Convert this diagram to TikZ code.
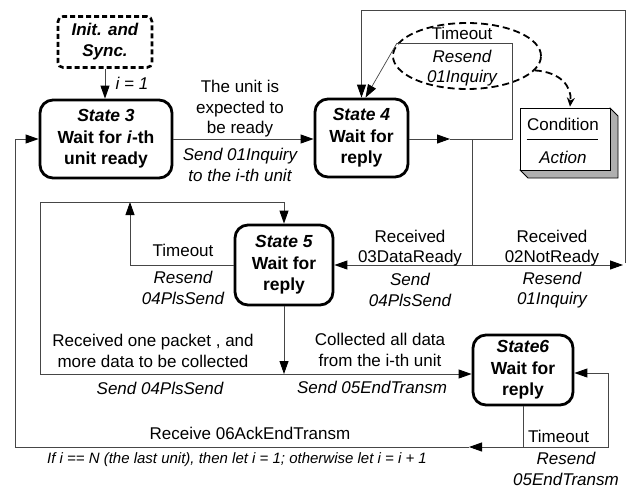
\documentclass[tikz,border=0pt]{standalone}
\usepackage{fontspec}
\setmainfont{Liberation Sans}
\usetikzlibrary{arrows.meta,shapes.geometric,calc}
\definecolor{lc}{RGB}{70,70,70}
\definecolor{sideg}{RGB}{175,175,175}
\begin{document}
\begin{tikzpicture}[x=1pt,y=-1pt,
  every node/.style={font=\fontsize{17}{20.5}\selectfont},
  state/.style={draw, line width=2.8pt, rounded corners=13pt, align=center, inner sep=0pt,
    font=\bfseries\fontsize{17.5}{21.5}\selectfont},
  conn/.style={draw=lc, line width=0.9pt},
  arr/.style={conn, -{Triangle[length=13pt,width=9pt,color=black]}},
  lbl/.style={align=center, inner sep=0pt},
  it/.style={lbl, font=\itshape\fontsize{17}{20.5}\selectfont}
]
\useasboundingbox (0,0) rectangle (633,491);

% ---------- nodes ----------
\node[draw, line width=2.6pt, dash pattern=on 5pt off 3pt, rounded corners=5pt,
  minimum width=94pt, minimum height=51pt, align=center, inner sep=0pt,
  font=\bfseries\itshape\fontsize{17}{21}\selectfont] (init) at (105,42) {Init. and\\Sync.};

\node[state, minimum width=132pt, minimum height=78pt] (s3) at (106,139)
  {\textit{State 3}\\Wait for \textit{i}-th\\unit ready};
\node[state, minimum width=93pt, minimum height=78pt] (s4) at (361.5,138)
  {\textit{State 4}\\Wait for\\reply};
\node[state, minimum width=98pt, minimum height=80pt] (s5) at (284,265)
  {\textit{State 5}\\Wait for\\reply};
\node[state, minimum width=100pt, minimum height=70pt] (s6) at (523,370)
  {\textit{State6}\\Wait for\\reply};

\node[draw, ellipse, line width=1.8pt, dash pattern=on 7pt off 4pt,
  minimum width=148pt, minimum height=66pt] (ell) at (467,56) {};

% condition box (3D)
\fill[sideg, draw=black, line width=0.8pt] (610,108) -- (618,116) -- (618,178) -- (528,178) -- (520,170) -- cycle;
\node[draw, fill=white, line width=0.8pt, minimum width=90pt, minimum height=62pt, inner sep=0pt] (cond) at (565,139) {};
\node[lbl] (condt) at (563,124) {Condition};
\draw[line width=0.8pt] (cond.west) ++(7,0) coordinate (cl1) -- ($(cond.east)+(-12,0)$) coordinate (cl2);
\node[it] (actt) at (563,157) {Action};

% ---------- connectors ----------
\draw[arr] (init.south) -- (init.south |- s3.north);
\node[it] (i1) at (132,83) {i = 1};

\draw[arr] (s3.east) -- (s3.east -| s4.west);
\node[lbl] (l34a) at (240,109) {The unit is\\expected to\\be ready};
\node[it] (l34b) at (240,165) {Send 01Inquiry\\to the i-th unit};

% state 4 outputs
\coordinate (a4) at (450,139);
\coordinate (j1) at (512,139);
\coordinate (j2) at (472,139);
\coordinate (t1) at (512,43);
\coordinate (t2) at (397,43);
\draw[arr] (s4.east |- a4) -- (a4);
\draw[conn] (a4) -- (j1) -- (t1) -- (t2);
\draw[arr, line width=0.7pt] (t2) -- ($(s4.north)+(4,0)$);
\node[lbl] (to4) at (462,33) {Timeout};
\node[it] (rs4) at (462,68) {Resend\\01Inquiry};

\draw[line width=1.8pt, dash pattern=on 7pt off 4pt, -{Stealth[length=9pt,width=8pt]}]
  (ell.-12) .. controls (560,72) and (572,86) .. ($(cond.north)+(5,-1)$);

\coordinate (j3) at (472,265);
\coordinate (r1) at (623,265);
\coordinate (r2) at (625,263);
\coordinate (r3) at (625,10);
\draw[conn] (j2) -- (j3);
\draw[arr] (j3) -- (j3 -| s5.east);
\draw[arr] (j3) -- (r1);
\draw[arr] (r2) -- (r3) -| (s4.north);
\node[lbl] (rdr) at (410,248) {Received\\03DataReady};
\node[it] (sps) at (410,290) {Send\\04PlsSend};
\node[lbl] (rnr) at (552,248) {Received\\02NotReady};
\node[it] (r01) at (552,290) {Resend\\01Inquiry};

% state 5 loops
\coordinate (t5) at (130,202);
\draw[arr] (s5.west) -| (t5);
\node[lbl] (to5) at (183,250) {Timeout};
\node[it] (rs5) at (183,288) {Resend\\04PlsSend};

\coordinate (b5) at (284,374);
\coordinate (l1) at (40,374);
\coordinate (l2) at (40,202);
\draw[arr] (s5.south) -- (b5);
\draw[conn] (b5) -- (l1) -- (l2);
\draw[arr] (l2) -| (s5.north);
\draw[arr] (b5) -- (b5 -| s6.west);
\node[lbl] (rop) at (153,351) {Received one packet , and\\more data to be collected};
\node[it] (sps2) at (160,388) {Send 04PlsSend};
\node[lbl] (cad) at (380,350) {Collected all data\\from the i-th unit};
\node[it] (set) at (372,387) {Send 05EndTransm};

% state 6 loops
\coordinate (c1) at (523,447);
\coordinate (c2) at (608,447);
\coordinate (c3) at (608,373);
\coordinate (m1) at (469,447);
\coordinate (c4) at (15,447);
\draw[conn] (s6.south) -- (c1) -- (c2) -- (c3);
\draw[arr] (c3) -- (c3 -| s6.east);
\draw[arr] (c1) -- (m1);
\draw[conn] (m1) -- (c4);
\draw[arr] (c4) |- (s3.west);
\node[lbl, anchor=west] (to6) at (528,436) {Timeout};
\node[it] (rs6) at (566,469) {Resend\\05EndTransm};
\node[lbl] (rae) at (250,433) {Receive 06AckEndTransm};
\node[it, font=\itshape\fontsize{15}{19}\selectfont] (cond2) at (237,460)
  {If i == N (the last unit), then let i = 1; otherwise let i = i + 1};
\end{tikzpicture}
\end{document}
